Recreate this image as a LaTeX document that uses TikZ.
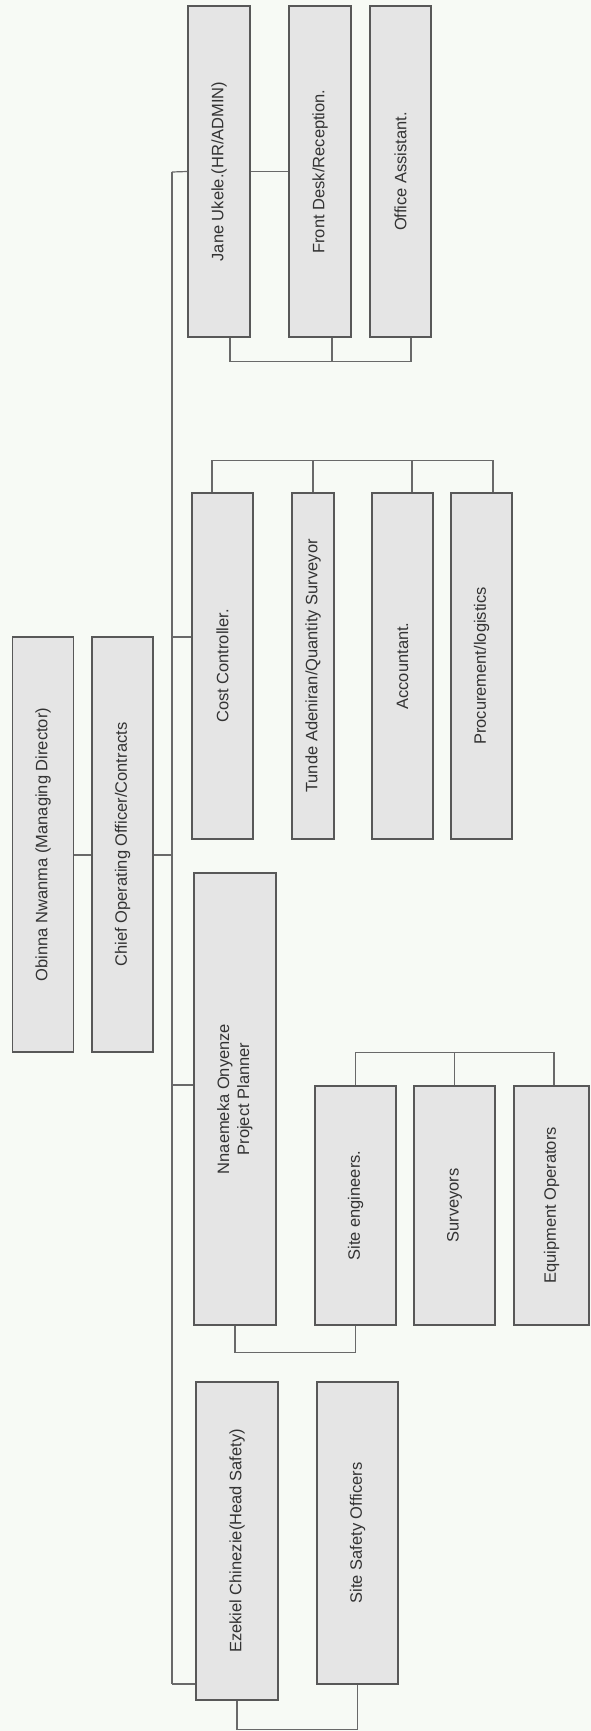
\documentclass[tikz,border=0pt]{standalone}
\usepackage{graphicx}
\usepackage{fontspec}
\setmainfont{Liberation Sans}
\definecolor{paper}{RGB}{247,250,245}
\definecolor{boxfill}{RGB}{229,229,229}
\definecolor{boxline}{RGB}{88,88,88}
\definecolor{wiregray}{RGB}{105,105,105}
\tikzset{
	box/.style={draw=boxline, fill=boxfill, line width=1.3pt, inner sep=0pt, minimum width=61pt, text=black!80, font=\fontsize{16.5}{20}\selectfont},
	wire/.style={draw=wiregray, line width=1.2pt}
}
\newcommand{\up}[1]{\rotatebox{90}{#1}}
\begin{document}
\begin{tikzpicture}[x=1pt, y=-1pt]
	\fill[paper] (0,0) rectangle (591,1731);
	\useasboundingbox (0,0) rectangle (591,1731);
	\node[box, minimum height=415pt] (obinna) at (43,844.5) {\up{Obinna Nwanma (Managing Director)}};
	\node[box, minimum height=415pt] (chief) at (122.5,844.5) {\up{Chief Operating Officer/Contracts}};
	\node[box, minimum width=62pt, minimum height=331pt] (jane) at (219,171.5) {\up{Jane Ukele.(HR/ADMIN)}};
	\node[box, minimum width=62pt, minimum height=331pt] (front) at (320,171.5) {\up{Front Desk/Reception.}};
	\node[box, minimum height=331pt] (office) at (400.5,171.5) {\up{Office Assistant.}};
	\node[box, minimum height=346pt] (cost) at (222.5,666) {\up{Cost Controller.}};
	\node[box, minimum width=42pt, minimum height=346pt] (tunde) at (313,666) {\up{Tunde Adeniran/Quantity Surveyor}};
	\node[box, minimum height=346pt] (accountant) at (402.5,666) {\up{Accountant.}};
	\node[box, minimum height=346pt] (procure) at (481.5,666) {\up{Procurement/logistics}};
	\node[box, minimum width=82pt, minimum height=452pt] (nnaemeka) at (235,1099) {\up{\begin{tabular}{@{}c@{}}Nnaemeka Onyenze\\Project Planner\end{tabular}}};
	\node[box, minimum width=81pt, minimum height=239pt] (siteeng) at (355.5,1205.5) {\up{Site engineers.}};
	\node[box, minimum width=81pt, minimum height=239pt] (surveyors) at (454.5,1205.5) {\up{Surveyors}};
	\node[box, minimum width=75pt, minimum height=239pt] (equip) at (551.5,1205.5) {\up{Equipment Operators}};
	\node[box, minimum width=82pt, minimum height=318pt] (ezekiel) at (237,1541) {\up{Ezekiel Chinezie(Head Safety)}};
	\node[box, minimum width=81pt, minimum height=302pt] (safety) at (357.5,1533) {\up{Site Safety Officers}};
	\coordinate (trunktop) at (172,172);
	\coordinate (trunkend) at (172,1684);
	\draw[wire] (trunktop) -- (trunkend);
	\draw[wire] (trunktop) -- (jane.west);
	\draw[wire] (jane.east) -- (front.west);
	\draw[wire] ([xshift=11pt]jane.south) -- ++(0,24) -| ([xshift=10.5pt]office.south);
	\draw[wire] ([xshift=12pt]front.south) -- ++(0,24);
	\draw[wire] ([yshift=29pt]cost.west) -- ([yshift=29pt]cost.west -| trunktop);
	\draw[wire] ([xshift=-10.5pt]cost.north) -- ++(0,-32) -| ([xshift=11.5pt]procure.north);
	\draw[wire] (tunde.north) -- ++(0,-32);
	\draw[wire] ([xshift=9.5pt]accountant.north) -- ++(0,-32);
	\draw[wire] ([yshift=-10.5pt]obinna.east) -- ([yshift=-10.5pt]chief.west);
	\draw[wire] ([yshift=-10.5pt]chief.east) -- ([yshift=-10.5pt]chief.east -| trunktop);
	\draw[wire] ([yshift=14pt]nnaemeka.west) -- ([yshift=14pt]nnaemeka.west -| trunktop);
	\draw[wire] (nnaemeka.south) -- ++(0,27) -| (siteeng.south);
	\draw[wire] (siteeng.north) -- ++(0,-33) -| ([xshift=2.5pt]equip.north);
	\draw[wire] (surveyors.north) -- ++(0,-33);
	\draw[wire] (trunkend) -- (trunkend -| ezekiel.west);
	\draw[wire] (ezekiel.south) -- ++(0,29) -| (safety.south);
\end{tikzpicture}
\end{document}
